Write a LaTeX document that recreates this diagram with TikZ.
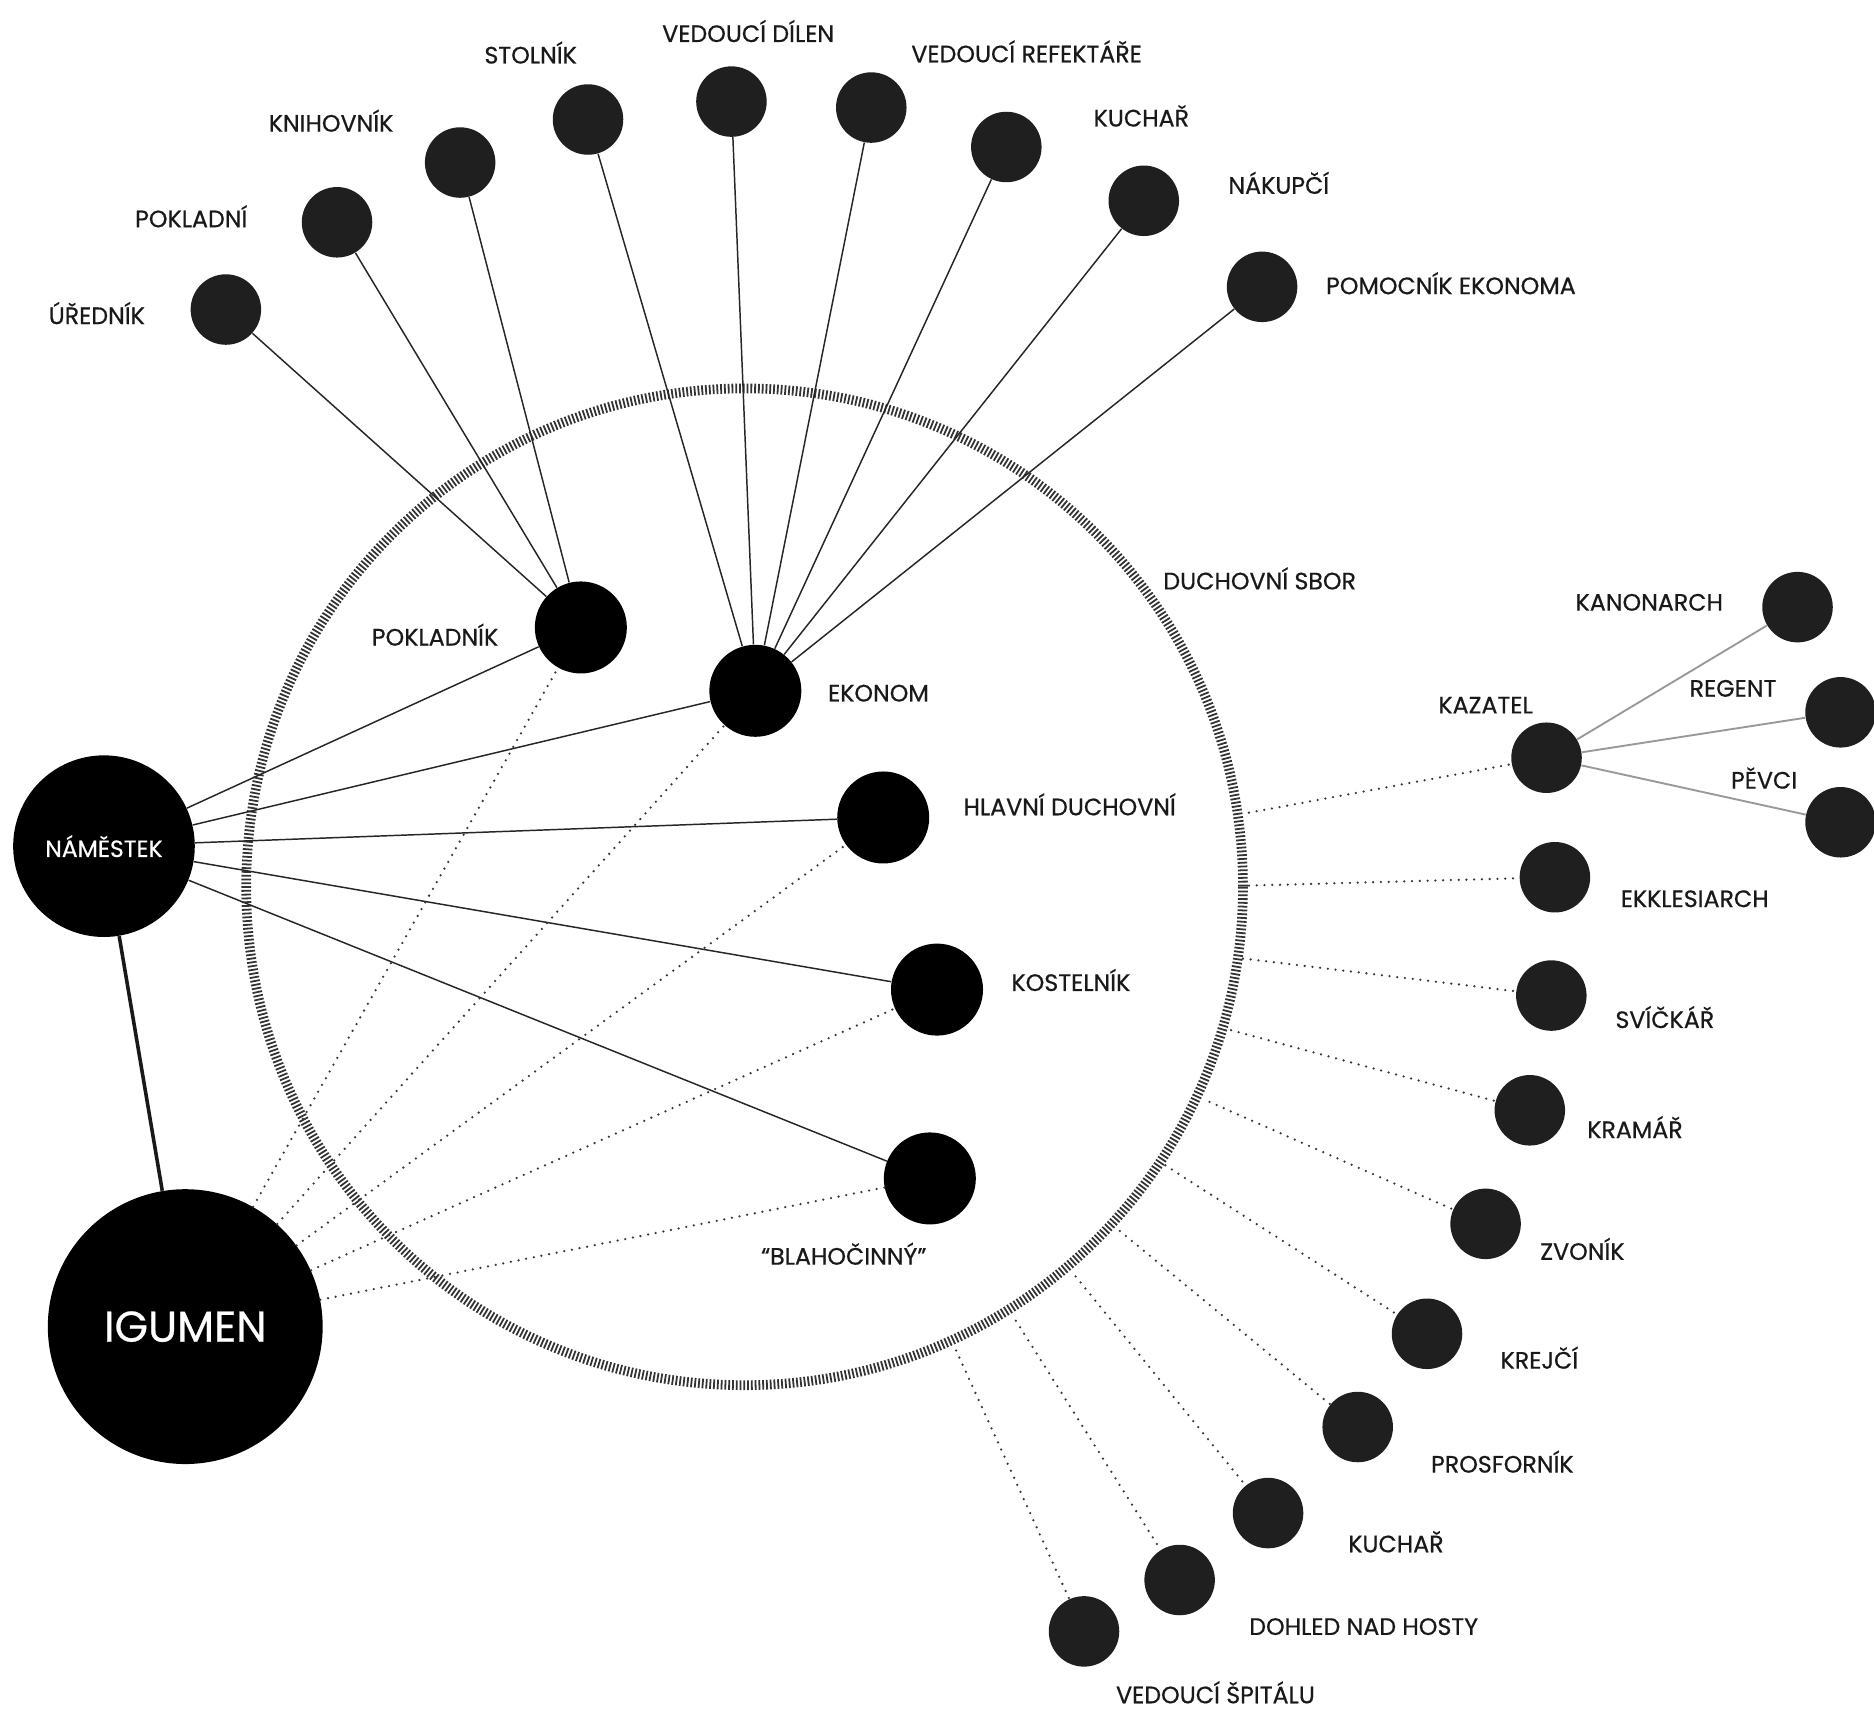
\documentclass[tikz,border=0pt]{standalone}
\usepackage{fontspec}
\setmainfont{Poppins}[FakeBold=0.6]
\usetikzlibrary{calc}
\definecolor{dotfill}{HTML}{1F1F1F}
\tikzset{
  bignode/.style={circle,fill=black,inner sep=0pt,minimum size=1.54cm},
  smallnode/.style={circle,fill=dotfill,inner sep=0pt,minimum size=1.18cm},
  lbl/.style={inner sep=0pt,text=black!90,font=\fontsize{11.3}{13}\selectfont},
  thinline/.style={line width=0.7pt,draw=black!85},
  thickline/.style={line width=1.7pt,draw=black!90},
  dotline/.style={line width=1.2pt,draw=black!78,line cap=round,dash pattern=on 0pt off 3.7pt},
  grayline/.style={line width=0.9pt,draw=black!40},
  ringstyle/.style={line width=4.6pt,draw=black!80,dash pattern=on 0.85pt off 0.95pt}
}
\begin{document}
\begin{tikzpicture}[x=0.02cm,y=-0.02cm]
\useasboundingbox (0,0) rectangle (1568,1432);
% ring
\coordinate (ring) at (623,742);
\draw[ringstyle] (ring) circle[radius=417];
% main nodes
\node[circle,fill=black,inner sep=0pt,minimum size=4.6cm,text=white,font=\fontsize{20.5}{24}\selectfont] (igumen) at (155,1110) {IGUMEN};
\node[circle,fill=black,inner sep=0pt,minimum size=3.04cm,text=white,font=\fontsize{11.2}{13}\selectfont] (namestek) at (87,708) {NÁMĚSTEK};
\node[bignode] (pokladnik) at (486,525) {};
\node[bignode] (ekonom) at (632,578) {};
\node[bignode] (hlavni) at (739,684) {};
\node[bignode] (kostelnik) at (784,828) {};
\node[bignode] (blaho) at (778,986) {};
% top nodes
\node[smallnode] (urednik) at (189,259) {};
\node[smallnode] (pokladni) at (282,186) {};
\node[smallnode] (knihovnik) at (385,136) {};
\node[smallnode] (stolnik) at (492,100) {};
\node[smallnode] (dilen) at (612,85) {};
\node[smallnode] (refekt) at (729,90) {};
\node[smallnode] (kuchar1) at (842,123) {};
\node[smallnode] (nakupci) at (957,168) {};
\node[smallnode] (pomocnik) at (1056,240) {};
% right nodes
\node[smallnode] (kazatel) at (1294,634) {};
\node[smallnode] (kanonarch) at (1504,508) {};
\node[smallnode] (regent) at (1540,596) {};
\node[smallnode] (pevci) at (1540,688) {};
\node[smallnode] (ekklesiarch) at (1301,734) {};
\node[smallnode] (svickar) at (1298,833) {};
\node[smallnode] (kramar) at (1280,929) {};
\node[smallnode] (zvonik) at (1243,1024) {};
\node[smallnode] (krejci) at (1194,1116) {};
\node[smallnode] (prosfornik) at (1136,1194) {};
\node[smallnode] (kuchar2) at (1061,1266) {};
\node[smallnode] (dohled) at (987,1322) {};
\node[smallnode] (spital) at (907,1365) {};
% ring exit points
\coordinate (sKaz) at (1045,680);
\coordinate (sEkk) at (1045,741);
\coordinate (sSvi) at (1040,802);
\coordinate (sKra) at (1030,862);
\coordinate (sZvo) at (1012,922);
\coordinate (sKre) at (975,975);
\coordinate (sPro) at (937,1030);
\coordinate (sKuc) at (900,1068);
\coordinate (sDoh) at (850,1105);
\coordinate (sSpi) at (800,1130);
% connectors
\draw[thickline] (namestek) -- (igumen);
\foreach \t in {pokladnik,ekonom,hlavni,kostelnik,blaho}{
  \draw[thinline] (namestek) -- (\t);
  \draw[dotline] (igumen) -- (\t);
}
\foreach \t in {urednik,pokladni,knihovnik}{
  \draw[thinline] (pokladnik) -- (\t);
}
\foreach \t in {stolnik,dilen,refekt,kuchar1,nakupci,pomocnik}{
  \draw[thinline] (ekonom) -- (\t);
}
\foreach \t in {kanonarch,regent,pevci}{
  \draw[grayline] (kazatel) -- (\t);
}
\draw[dotline] (sKaz) -- (kazatel);
\draw[dotline] (sEkk) -- (ekklesiarch);
\draw[dotline] (sSvi) -- (svickar);
\draw[dotline] (sKra) -- (kramar);
\draw[dotline] (sZvo) -- (zvonik);
\draw[dotline] (sKre) -- (krejci);
\draw[dotline] (sPro) -- (prosfornik);
\draw[dotline] (sKuc) -- (kuchar2);
\draw[dotline] (sDoh) -- (dohled);
\draw[dotline] (sSpi) -- (spital);
% labels
\node[lbl] (lUre) at (81,262) {ÚŘEDNÍK};
\node[lbl] (lPok) at (160,181) {POKLADNÍ};
\node[lbl] (lKni) at (277,101) {KNIHOVNÍK};
\node[lbl] (lSto) at (444,44) {STOLNÍK};
\node[lbl] (lDil) at (626,26) {VEDOUCÍ DÍLEN};
\node[lbl] (lRef) at (859,43) {VEDOUCÍ REFEKTÁŘE};
\node[lbl] (lKu1) at (955,97) {KUCHAŘ};
\node[lbl] (lNak) at (1070,153) {NÁKUPČÍ};
\node[lbl] (lPom) at (1214,237) {POMOCNÍK EKONOMA};
\node[lbl] (lPokl) at (364,531) {POKLADNÍK};
\node[lbl] (lEko) at (735,580) {EKONOM};
\node[lbl] (lHla) at (895,673) {HLAVNÍ DUCHOVNÍ};
\node[lbl] (lKos) at (896,820) {KOSTELNÍK};
\node[lbl] (lBla) at (706,1049) {“BLAHOČINNÝ”};
\node[lbl] (lSbor) at (1054,484) {DUCHOVNÍ SBOR};
\node[lbl] (lKan) at (1380,504) {KANONARCH};
\node[lbl] (lReg) at (1450,576) {REGENT};
\node[lbl] (lPev) at (1476,651) {PĚVCI};
\node[lbl] (lKaz) at (1243,590) {KAZATEL};
\node[lbl] (lEkk) at (1418,752) {EKKLESIARCH};
\node[lbl] (lSvi) at (1393,851) {SVÍČKÁŘ};
\node[lbl] (lKra) at (1368,943) {KRAMÁŘ};
\node[lbl] (lZvo) at (1324,1045) {ZVONÍK};
\node[lbl] (lKre) at (1288,1136) {KREJČÍ};
\node[lbl] (lPro) at (1257,1223) {PROSFORNÍK};
\node[lbl] (lKu2) at (1168,1290) {KUCHAŘ};
\node[lbl] (lDoh) at (1141,1361) {DOHLED NAD HOSTY};
\node[lbl] (lSpi) at (1017,1416) {VEDOUCÍ ŠPITÁLU};
\end{tikzpicture}
\end{document}
